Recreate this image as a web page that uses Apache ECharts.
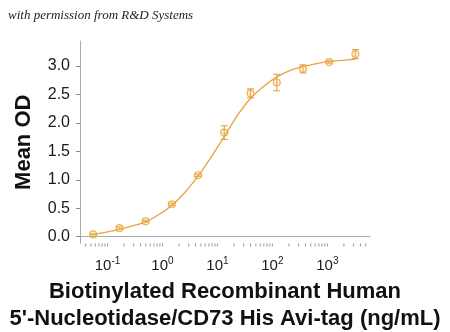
<!DOCTYPE html>
<html>
<head>
<meta charset="utf-8">
<script src="https://cdn.jsdelivr.net/npm/echarts@6/dist/echarts.min.js"></script>
<style>
html,body{margin:0;padding:0;background:#fff;}
#c{width:450px;height:332px;}
</style>
</head>
<body>
<div id="c"></div>
<script>
// Concentrations (ng/mL) of the measured points
var concentrations = [0.0549, 0.165, 0.494, 1.48, 4.44, 13.3, 40, 120, 360, 1080, 3240];
// Mean OD values
var meanOD = [0.04, 0.15, 0.27, 0.57, 1.08, 1.83, 2.52, 2.71, 2.95, 3.07, 3.21];
// Error (± SD)
var errOD = [0.01, 0.02, 0.015, 0.02, 0.02, 0.12, 0.08, 0.145, 0.07, 0.02, 0.08];
// Fitted curve
var curveX = [0.0549, 0.095, 0.165, 0.286, 0.494, 0.857, 1.48, 2.57, 4.44, 7.7, 13.3, 23, 40, 69, 120, 208, 360, 624, 1080, 1870, 3240];
var curveY = [0.035, 0.08, 0.13, 0.19, 0.26, 0.39, 0.55, 0.78, 1.065, 1.40, 1.76, 2.13, 2.43, 2.64, 2.81, 2.92, 2.99, 3.04, 3.08, 3.10, 3.12];
// Axis tick values
var xTickValues = [0.04,0.05,0.06,0.07,0.08,0.09,0.1,0.2,0.3,0.4,0.5,0.6,0.7,0.8,0.9,1,2,3,4,5,6,7,8,9,10,20,30,40,50,60,70,80,90,100,200,300,400,500,600,700,800,900,1000,2000,3000,4000,5000];
var yTickValues = [0, 0.5, 1.0, 1.5, 2.0, 2.5, 3.0];

var ORANGE = '#E8A33D';
var X_MIN = 0.0316, X_MAX = 5970, Y_MIN = -0.12, Y_MAX = 3.44;

var chart = echarts.init(document.getElementById('c'), null, {renderer: 'canvas'});

var pts = concentrations.map(function (c, i) { return [c, meanOD[i]]; });
var errData = concentrations.map(function (c, i) { return [c, meanOD[i] - errOD[i], meanOD[i] + errOD[i]]; });
var curve = curveX.map(function (c, i) { return [c, curveY[i]]; });
var tickData = xTickValues.map(function (v) { return [v, Y_MIN]; });

chart.setOption({
  animation: false,
  backgroundColor: '#fff',
  graphic: [{
    type: 'text', left: 8, top: 9,
    style: { text: 'with permission from R&D Systems', font: 'italic 13px "Liberation Serif", serif', fill: '#222' }
  }],
  grid: { left: 80, right: 80, top: 41, bottom: 88.5, outerBoundsMode: 'none', containLabel: false },
  xAxis: {
    type: 'log', logBase: 10, min: X_MIN, max: X_MAX,
    splitLine: { show: false },
    axisLine: { lineStyle: { color: '#aaa', width: 1 } },
    axisTick: { show: false },
    axisLabel: {
      showMinLabel: false, showMaxLabel: false, margin: 13,
      color: '#1a1a1a', fontSize: 15, fontFamily: 'Liberation Sans, Arial, sans-serif',
      formatter: function (v) {
        var e = Math.round(Math.log10(v));
        return '10{s|' + e + '}';
      },
      rich: { s: { fontSize: 10, padding: [0, 0, 9, 0], color: '#1a1a1a', fontFamily: 'Liberation Sans, Arial, sans-serif' } }
    },
    name: 'Biotinylated Recombinant Human\n5\'-Nucleotidase/CD73 His Avi-tag (ng/mL)',
    nameLocation: 'middle', nameGap: 33,
    nameTextStyle: { fontSize: 22, fontWeight: 'bold', color: '#111', lineHeight: 27, fontFamily: 'Liberation Sans, Arial, sans-serif' }
  },
  yAxis: {
    type: 'value', min: Y_MIN, max: Y_MAX,
    splitLine: { show: false },
    axisLine: { show: true, lineStyle: { color: '#aaa', width: 1 } },
    axisTick: { show: true, length: 4, customValues: yTickValues, lineStyle: { color: '#888' } },
    axisLabel: {
      customValues: yTickValues, margin: 10,
      color: '#1a1a1a', fontSize: 16, fontFamily: 'Liberation Sans, Arial, sans-serif',
      formatter: function (v) { return v.toFixed(1); }
    },
    name: 'Mean OD', nameLocation: 'middle', nameGap: 45,
    nameTextStyle: { fontSize: 22, fontWeight: 'bold', color: '#111', fontFamily: 'Liberation Sans, Arial, sans-serif' }
  },
  series: [
    {
      type: 'custom', name: 'xticks', data: tickData, clip: false, silent: true, z: 1,
      renderItem: function (params, api) {
        var p = api.coord([api.value(0), api.value(1)]);
        return { type: 'line', shape: { x1: p[0], y1: p[1], x2: p[0], y2: p[1] + 3 }, style: { stroke: '#999', lineWidth: 1 } };
      }
    },
    {
      type: 'line', name: 'fit', data: curve, smooth: 0.35, showSymbol: false, symbol: 'none',
      lineStyle: { color: ORANGE, width: 1.3 }, z: 2
    },
    {
      type: 'custom', name: 'err', data: errData, z: 3,
      renderItem: function (params, api) {
        var lo = api.coord([api.value(0), api.value(1)]);
        var hi = api.coord([api.value(0), api.value(2)]);
        var w = 3.5;
        var st = { stroke: ORANGE, lineWidth: 1.1 };
        return { type: 'group', children: [
          { type: 'line', shape: { x1: lo[0], y1: lo[1], x2: hi[0], y2: hi[1] }, style: st },
          { type: 'line', shape: { x1: lo[0] - w, y1: lo[1], x2: lo[0] + w, y2: lo[1] }, style: st },
          { type: 'line', shape: { x1: hi[0] - w, y1: hi[1], x2: hi[0] + w, y2: hi[1] }, style: st }
        ]};
      }
    },
    {
      type: 'scatter', name: 'Mean OD', data: pts, symbol: 'circle', symbolSize: 7, z: 4,
      itemStyle: { color: 'rgba(240,190,110,0.35)', borderColor: ORANGE, borderWidth: 1.2 }
    }
  ]
});
</script>
</body>
</html>
